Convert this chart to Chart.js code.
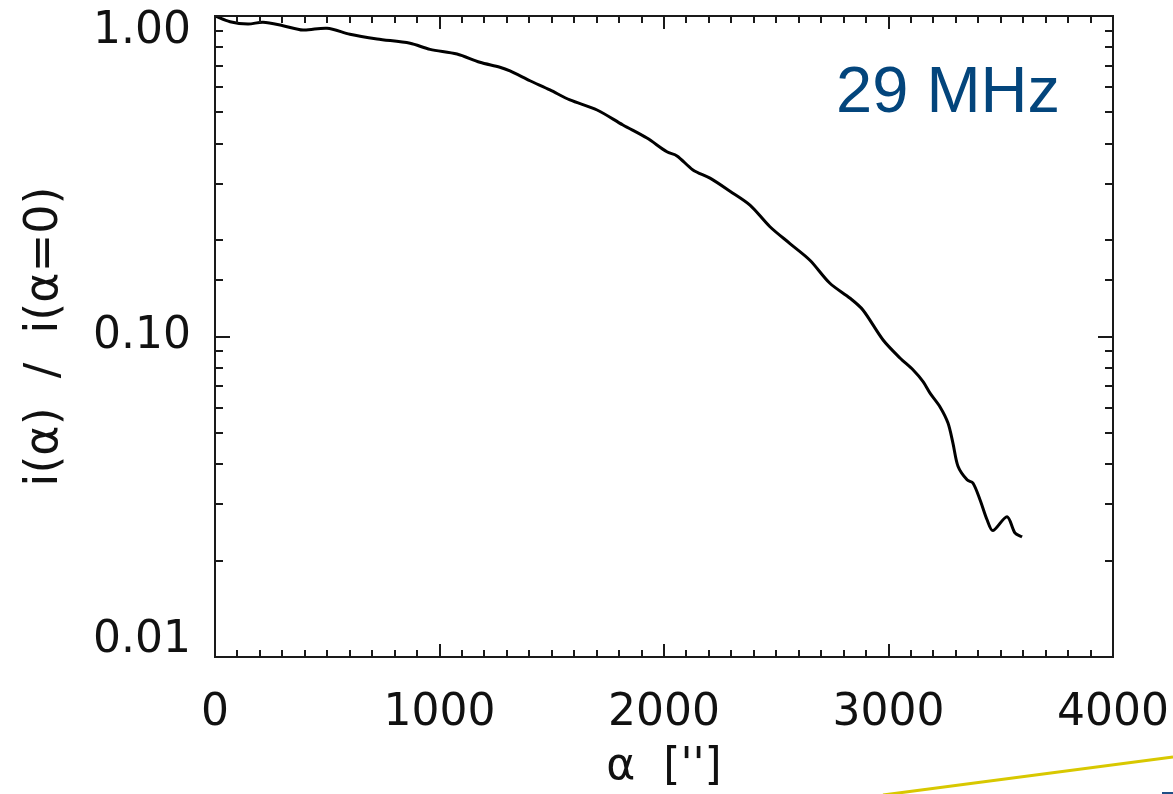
<!DOCTYPE html>
<html>
<head>
<meta charset="utf-8">
<title>29 MHz brightness profile</title>
<script src="https://cdn.jsdelivr.net/npm/chart.js@4.4.1/dist/chart.umd.min.js"></script>
<style>
  html, body { margin: 0; padding: 0; background: #fff; }
  #wrap { width: 1173px; height: 794px; position: relative; }
</style>
</head>
<body>
<div id="wrap"><canvas id="profile"></canvas></div>
<script>
// angular distance alpha, arcsec
const alpha = [0, 67, 147, 214, 303, 392, 499, 601, 722, 869, 958, 1078, 1180, 1269, 1314,
  1403, 1492, 1581, 1702, 1817, 1924, 2013, 2058, 2129, 2205, 2294, 2383, 2472, 2561, 2650,
  2739, 2829, 2886, 2976, 3051, 3110, 3154, 3185, 3229, 3265, 3287, 3310, 3350, 3376, 3408,
  3439, 3465, 3528, 3563, 3595];
// i(alpha) / i(alpha=0)
const ratio = [1.0, 0.960, 0.944, 0.956, 0.933, 0.904, 0.916, 0.877, 0.848, 0.822, 0.787, 0.761, 0.717, 0.692, 0.674,
  0.628, 0.588, 0.547, 0.509, 0.457, 0.416, 0.377, 0.366, 0.331, 0.312, 0.284, 0.257, 0.220, 0.195, 0.173,
  0.1466, 0.1316, 0.121, 0.0975, 0.0857, 0.0786, 0.0723, 0.0666, 0.0604, 0.0537, 0.0465, 0.0393, 0.0357, 0.0349, 0.0309,
  0.0268, 0.0248, 0.0274, 0.0244, 0.0237];

const xTickValues = [0, 1000, 2000, 3000, 4000];
const xTickLabels = ['0', '1000', '2000', '3000', '4000'];
const yTickValues = [1, 0.1, 0.01];
const yTickLabels = ['1.00', '0.10', '0.01'];

const freqLabel = '29 MHz';
const freqPos = { x: 3265, y: 0.5 };

const FONT = '"DejaVu Sans", Verdana, sans-serif';

function isDecade(v) {
  const l = Math.log10(v);
  return Math.abs(l - Math.round(l)) < 1e-6;
}

// IDL-style frame: box on all four sides, ticks pointing inward
const frameTicks = {
  id: 'frameTicks',
  afterDatasetsDraw(chart) {
    const { ctx, chartArea: a, scales: { x, y } } = chart;
    ctx.save();
    ctx.strokeStyle = '#1a1a1a';
    ctx.lineWidth = 2;
    ctx.beginPath();
    x.ticks.forEach(t => {
      const px = Math.round(x.getPixelForValue(t.value));
      const len = xTickValues.includes(t.value) ? 13 : 7;
      ctx.moveTo(px, a.bottom); ctx.lineTo(px, a.bottom - len);
      ctx.moveTo(px, a.top); ctx.lineTo(px, a.top + len);
    });
    y.ticks.forEach(t => {
      const py = Math.round(y.getPixelForValue(t.value));
      const len = isDecade(t.value) ? 15 : 8;
      ctx.moveTo(a.left, py); ctx.lineTo(a.left + len, py);
      ctx.moveTo(a.right, py); ctx.lineTo(a.right - len, py);
    });
    ctx.stroke();
    ctx.strokeRect(a.left, a.top, a.right - a.left, a.bottom - a.top);

    ctx.fillStyle = '#03457c';
    ctx.font = '65px "Liberation Sans", Arial, sans-serif';
    ctx.textAlign = 'center';
    ctx.textBaseline = 'alphabetic';
    ctx.fillText(freqLabel, x.getPixelForValue(freqPos.x), y.getPixelForValue(freqPos.y));
    ctx.restore();
  },
  afterDraw(chart) {
    // slide decoration in the lower right corner
    const { ctx, width: w, height: h } = chart;
    ctx.save();
    ctx.strokeStyle = '#d8c800';
    ctx.lineWidth = 3;
    ctx.beginPath();
    ctx.moveTo(w - 290, h + 1);
    ctx.lineTo(w, h - 37);
    ctx.stroke();
    ctx.fillStyle = '#1f4f86';
    ctx.fillRect(w - 11, h - 2, 11, 2);
    ctx.restore();
  }
};

new Chart(document.getElementById('profile'), {
  type: 'line',
  data: {
    datasets: [{
      data: alpha.map((a, i) => ({ x: a, y: ratio[i] })),
      borderColor: '#000',
      borderWidth: 3,
      pointRadius: 0,
      tension: 0.3,
      fill: false
    }]
  },
  options: {
    responsive: true,
    maintainAspectRatio: false,
    animation: false,
    layout: { padding: { left: 0, top: 16, right: 60, bottom: 0 } },
    plugins: {
      legend: { display: false },
      tooltip: { enabled: false }
    },
    scales: {
      x: {
        type: 'linear',
        min: 0,
        max: 4000,
        grid: { display: false },
        border: { display: false },
        ticks: {
          stepSize: 100,
          autoSkip: false,
          maxRotation: 0,
          padding: 22,
          color: '#111',
          font: { family: FONT, size: 44 },
          callback: v => {
            const k = xTickValues.indexOf(v);
            return k >= 0 ? xTickLabels[k] : '';
          }
        },
        title: {
          display: true,
          text: "\u03b1  ['']",
          color: '#111',
          font: { family: FONT, size: 44 },
          padding: { top: 0, bottom: 0 }
        },
        afterFit: s => {
          s.height = 137;
          s.paddingLeft = 0;
          s.paddingRight = 0;
        }
      },
      y: {
        type: 'logarithmic',
        min: 0.01,
        max: 1,
        grid: { display: false },
        border: { display: false },
        ticks: {
          autoSkip: false,
          padding: 16,
          color: '#111',
          font: { family: FONT, size: 44, lineHeight: '32px' },
          callback: v => {
            const k = yTickValues.findIndex(t => Math.abs(t - v) < 1e-9);
            if (k < 0) return '';
            // keep the end labels inside the frame
            if (k === 0) return ['', yTickLabels[k]];
            if (k === yTickValues.length - 1) return [yTickLabels[k], ''];
            return yTickLabels[k];
          }
        },
        title: {
          display: true,
          text: 'i(\u03b1)  /  i(\u03b1=0)',
          color: '#111',
          font: { family: FONT, size: 46 },
          padding: { top: 17, bottom: 0 }
        },
        afterFit: s => {
          s.width = 215;
          s.paddingTop = 0;
          s.paddingBottom = 0;
        }
      }
    }
  },
  plugins: [frameTicks]
});
</script>
</body>
</html>
